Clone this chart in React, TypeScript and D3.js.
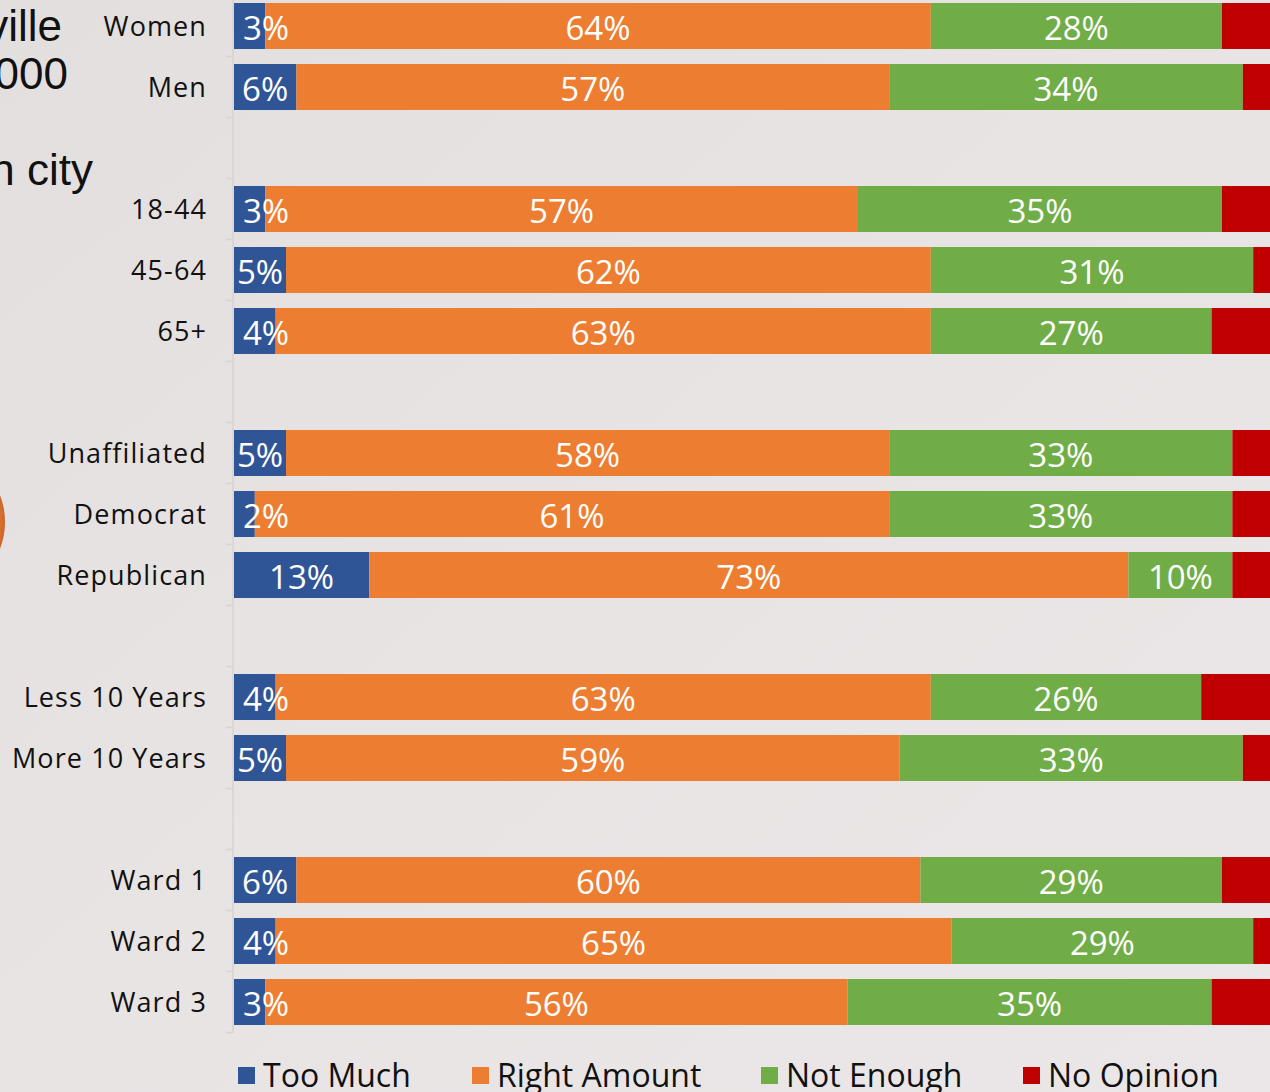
import React from "react";
import * as d3 from "d3";

const categories = ["Women", "Men", "", "18-44", "45-64", "65+", "", "Unaffiliated", "Democrat", "Republican", "", "Less 10 Years", "More 10 Years", "", "Ward 1", "Ward 2", "Ward 3"];
const tooMuch = [3, 6, 0, 3, 5, 4, 0, 5, 2, 13, 0, 4, 5, 0, 6, 4, 3];
const rightAmount = [64, 57, 0, 57, 62, 63, 0, 58, 61, 73, 0, 63, 59, 0, 60, 65, 56];
const notEnough = [28, 34, 0, 35, 31, 27, 0, 33, 33, 10, 0, 26, 33, 0, 29, 29, 35];
const noOpinion = [5, 3, 0, 5, 2, 6, 0, 4, 4, 4, 0, 7, 3, 0, 5, 2, 6];
const seriesNames = ["Too Much", "Right Amount", "Not Enough", "No Opinion"];
const seriesColors = ["#2f5597", "#ed7d31", "#70ad47", "#c00000"];
const labeledSeries = [true, true, true, false];
const titleLines = ["ville", "000", "in city"];

const W = 1270;
const H = 1092;
const FONT = "'Open Sans', sans-serif";

export default function App() {
  const ids = categories.map((c, i) => `${i}:${c}`);
  const rows = ids.map((id, i) => ({
    id,
    label: categories[i],
    s0: tooMuch[i],
    s1: rightAmount[i],
    s2: notEnough[i],
    s3: noOpinion[i],
  }));
  const keys = ["s0", "s1", "s2", "s3"];
  const stacked = d3.stack<any>().keys(keys)(rows);

  const x = d3.scaleLinear().domain([0, 100]).range([234, 1274]);
  const pad = 0.246;
  const y = d3
    .scaleBand<string>()
    .domain(ids)
    .range([-4.5, 1032.5])
    .paddingInner(pad)
    .paddingOuter(pad / 2);
  const step = y.step();
  const bw = y.bandwidth();
  const axisX = 233;
  const tickYs = d3.range(ids.length + 1).map((i) => y.range()[0] + i * step);

  const legendX = [238, 472, 761, 1023];

  return (
    <svg
      width={W}
      height={H}
      style={{ position: "absolute", left: 0, top: 0, display: "block" }}
      fontFamily={FONT}
    >
      <defs>
        <linearGradient id="bg" x1="0" y1="0" x2="1" y2="1">
          <stop offset="0" stopColor="#e3dfdf" />
          <stop offset="0.5" stopColor="#e8e4e4" />
          <stop offset="1" stopColor="#ebe7e8" />
        </linearGradient>
        <radialGradient id="orb" cx="0.5" cy="0.5" r="0.5">
          <stop offset="0.85" stopColor="#ed7d31" />
          <stop offset="1" stopColor="#c9662a" />
        </radialGradient>
      </defs>
      <rect x={0} y={0} width={W} height={H} fill="url(#bg)" />
      {/* decorative partial circle at left edge */}
      <ellipse cx={-60} cy={522} rx={65} ry={70} fill="url(#orb)" />

      {/* partial title text */}
      <g fontFamily="'Liberation Sans', Arial, sans-serif" fill="#111" fontSize={44}>
        <text x={62} y={41} textAnchor="end">{titleLines[0]}</text>
        <text x={68} y={89} textAnchor="end">{titleLines[1]}</text>
        <text x={93} y={185} textAnchor="end">{titleLines[2]}</text>
      </g>

      {/* axis */}
      <line x1={axisX} x2={axisX} y1={tickYs[0]} y2={tickYs[tickYs.length - 1]} stroke="#d6d3d3" strokeWidth={1.5} />
      {tickYs.map((ty, i) => (
        <line key={i} x1={226} x2={axisX} y1={ty} y2={ty} stroke="#d6d3d3" strokeWidth={1.5} />
      ))}

      {/* category labels */}
      {rows.map((r) =>
        r.label ? (
          <text
            key={r.id}
            x={207}
            y={(y(r.id) as number) + bw / 2 + 1}
            dy="0.35em"
            textAnchor="end"
            fontSize={27}
            letterSpacing={1.1}
            fill="#111"
          >
            {r.label}
          </text>
        ) : null
      )}

      {/* bars */}
      {stacked.map((layer, si) => (
        <g key={layer.key} fill={seriesColors[si]}>
          {layer.map((d, i) =>
            d[1] - d[0] > 0 ? (
              <rect
                key={i}
                x={x(d[0])}
                y={y(rows[i].id)}
                width={x(d[1]) - x(d[0])}
                height={bw}
              />
            ) : null
          )}
        </g>
      ))}

      {/* data labels */}
      {stacked.map((layer, si) =>
        labeledSeries[si] ? (
          <g key={"l" + layer.key} fill="#fff" fontSize={33}>
            {layer.map((d, i) => {
              const v = d[1] - d[0];
              if (v <= 0) return null;
              const x0 = x(d[0]);
              const x1 = x(d[1]);
              const labelW = 46;
              const fits = x1 - x0 >= labelW;
              const cx = fits ? (x0 + x1) / 2 : x0 + 9 + labelW / 2;
              return (
                <text
                  key={i}
                  x={cx}
                  y={(y(rows[i].id) as number) + bw / 2 + 2}
                  dy="0.36em"
                  textAnchor="middle"
                >
                  {`${v}%`}
                </text>
              );
            })}
          </g>
        ) : null
      )}

      {/* legend */}
      {seriesNames.map((name, i) => (
        <g key={name} transform={`translate(${legendX[i]},1075)`}>
          <rect x={0} y={-8} width={17} height={17} fill={seriesColors[i]} />
          <text x={25} y={0} dy="0.36em" fontSize={32} fill="#111">
            {name}
          </text>
        </g>
      ))}
    </svg>
  );
}
